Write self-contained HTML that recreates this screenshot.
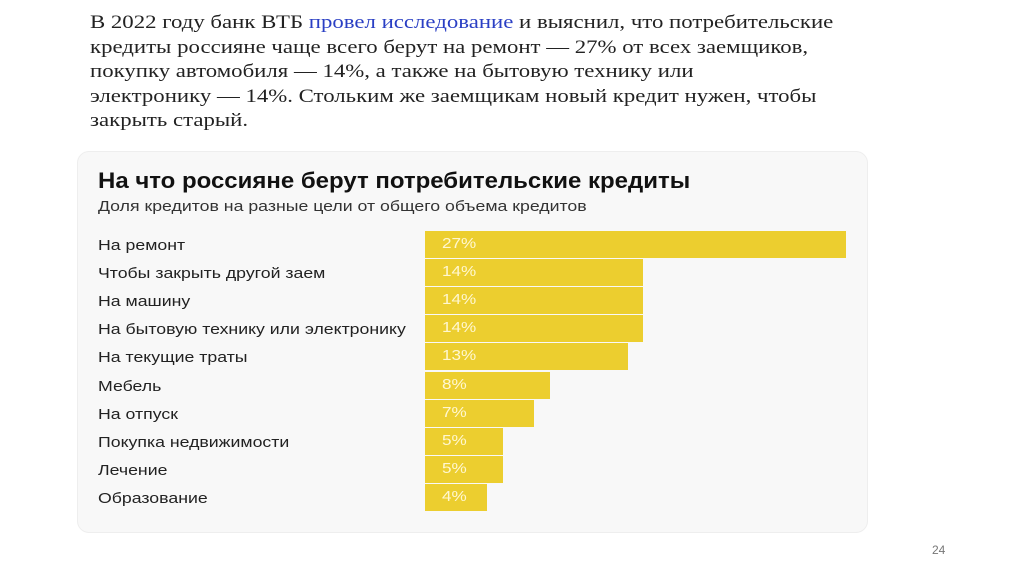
<!DOCTYPE html>
<html><head><meta charset="utf-8"><style>
body{margin:0;width:1024px;height:576px;background:#fff;position:relative;overflow:hidden}
#para{position:absolute;left:90px;top:11px;font-family:"Liberation Serif","Noto Serif CJK SC",serif;font-size:19px;line-height:24.5px;color:#222;white-space:nowrap;transform:scaleX(1.2);transform-origin:0 0}
#para a{color:#2a3fc4;text-decoration:none}
#card{position:absolute;left:77px;top:151px;width:791px;height:382px;background:#f8f8f8;border-radius:12px;border:1px solid #eee;box-sizing:border-box}
.t{position:absolute;font-family:"Liberation Sans","Noto Sans CJK SC",sans-serif;color:#111;transform-origin:0 0;white-space:nowrap}
#title{left:98px;top:168px;font-size:22px;font-weight:bold;transform:scaleX(1.09)}
#sub{left:98px;top:198px;font-size:15px;color:#333;transform:scaleX(1.18)}
.lbl{position:absolute;left:98px;font-family:"Liberation Sans",sans-serif;font-size:15px;color:#222;transform:scaleX(1.18);transform-origin:0 0;white-space:nowrap}
.bar{position:absolute;left:425px;height:27px;background:#ecce2f}
.bar span{position:absolute;left:17px;top:5px;font-family:"Liberation Sans",sans-serif;font-size:14.5px;color:#fff7d0;transform:scaleX(1.18);transform-origin:0 0}
#pg{position:absolute;left:932px;top:543px;font-family:"Liberation Sans",sans-serif;font-size:12px;color:#777}
</style></head><body>
<div id="para">В 2022 году банк ВТБ <a>провел исследование</a> и выяснил, что потребительские<br>кредиты россияне чаще всего берут на ремонт — 27% от всех заемщиков,<br>покупку автомобиля — 14%, а также на бытовую технику или<br>электронику — 14%. Стольким же заемщикам новый кредит нужен, чтобы<br>закрыть старый.</div>
<div id="card"></div>
<div class="t" id="title">На что россияне берут потребительские кредиты</div>
<div class="t" id="sub">Доля кредитов на разные цели от общего объема кредитов</div>
<div id="chart"></div>
<div id="pg">24</div>
<script>
const categories=["На ремонт","Чтобы закрыть другой заем","На машину","На бытовую технику или электронику","На текущие траты","Мебель","На отпуск","Покупка недвижимости","Лечение","Образование"];
const values=[27,14,14,14,13,8,7,5,5,4];
const chart=document.getElementById('chart');
const pxPer=15.6, top0=231, pitch=28.1;
function x(v){return v*pxPer;}
function y(i){return top0+i*pitch;}
categories.forEach((c,i)=>{
  const l=document.createElement('div');
  l.className='lbl';l.style.top=(y(i)+6)+'px';l.textContent=c;
  
  
  chart.appendChild(l);
  const b=document.createElement('div');
  b.className='bar';b.style.top=y(i)+'px';b.style.width=x(values[i])+'px';
  
  
  const s=document.createElement('span');s.textContent=values[i]+'%';
  
  
  b.appendChild(s);chart.appendChild(b);
});
</script>
</body></html>
